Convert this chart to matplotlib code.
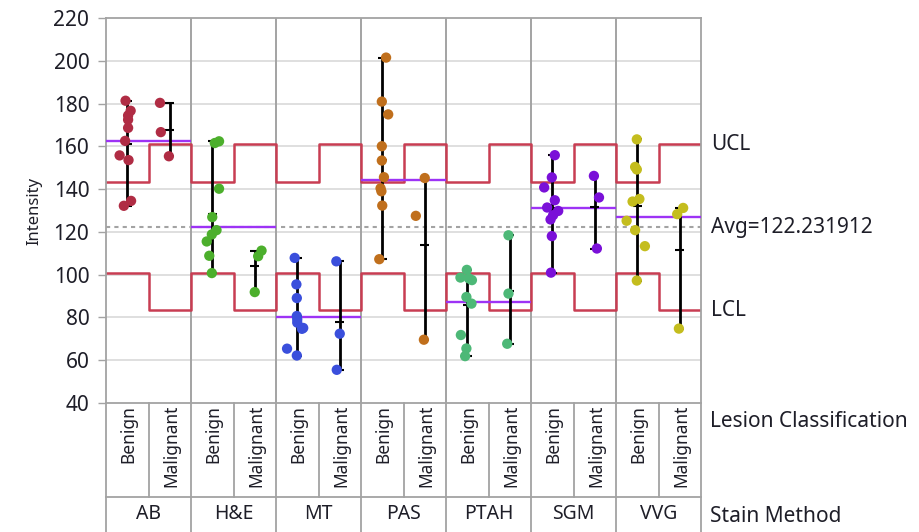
import numpy as np
import matplotlib
matplotlib.use('Agg')
import matplotlib.pyplot as plt

plt.rcParams['font.family'] = ['Noto Sans', 'DejaVu Sans']

# categories
stains = ['AB', 'H&E', 'MT', 'PAS', 'PTAH', 'SGM', 'VVG']
lesions = ['Benign', 'Malignant']

# intensity values (benign / malignant per stain)
ab_benign = [181.4, 176.7, 174.5, 172.5, 168.7, 162.6, 155.8, 153.6, 134.5, 132.2]
ab_malig = [180.4, 166.7, 155.4]
he_benign = [162.4, 161.6, 140.2, 126.9, 120.8, 118.8, 115.5, 108.8, 100.7]
he_malig = [111.2, 108.6, 91.8]
mt_benign = [107.8, 95.4, 89.0, 80.6, 79.0, 77.5, 75.0, 74.6, 65.3, 62.1]
mt_malig = [106.2, 72.3, 55.4]
pas_benign = [201.6, 181.0, 175.0, 160.1, 153.4, 145.6, 140.4, 139.0, 132.3, 107.2]
pas_malig = [145.2, 127.5, 69.5]
ptah_benign = [102.2, 98.6, 98.2, 97.4, 89.5, 86.4, 71.7, 65.4, 61.8]
ptah_malig = [118.4, 91.1, 67.6]
sgm_benign = [155.9, 145.5, 140.8, 134.8, 131.4, 129.8, 127.8, 125.8, 118.0, 100.9]
sgm_malig = [146.2, 136.1, 112.2]
vvg_benign = [163.3, 150.4, 149.2, 135.4, 134.2, 125.2, 120.8, 113.3, 97.2]
vvg_malig = [131.2, 128.3, 74.7]

# horizontal jitter of the points (fraction of a column)
ab_benign_jit = [-0.04, 0.08, 0.02, 0.02, 0.02, -0.05, -0.18, 0.03, 0.09, -0.08]
ab_malig_jit = [-0.23, -0.21, -0.02]
he_benign_jit = [0.16, 0.06, 0.16, 0.0, 0.10, -0.01, -0.13, -0.07, -0.01]
he_malig_jit = [0.16, 0.08, 0.0]
mt_benign_jit = [-0.06, -0.02, -0.01, -0.01, 0.0, 0.0, 0.14, 0.11, -0.24, -0.01]
mt_malig_jit = [-0.08, 0.0, -0.07]
pas_benign_jit = [0.09, -0.01, 0.14, -0.01, -0.01, 0.04, -0.04, -0.02, 0.0, -0.07]
pas_malig_jit = [0.0, -0.21, -0.02]
ptah_benign_jit = [-0.01, -0.16, 0.04, 0.11, -0.02, 0.10, -0.15, -0.02, -0.05]
ptah_malig_jit = [-0.03, -0.03, -0.06]
sgm_benign_jit = [0.06, -0.01, -0.19, 0.06, -0.12, 0.14, 0.02, -0.04, -0.01, -0.03]
sgm_malig_jit = [-0.02, 0.10, 0.05]
vvg_benign_jit = [-0.01, -0.05, -0.01, 0.05, -0.11, -0.25, -0.05, 0.18, -0.01]
vvg_malig_jit = [0.08, -0.06, -0.02]

# decision limits
avg = 122.231912
ucl = [143.5, 161.1]   # benign, malignant
lcl = [100.9, 83.3]

colors = ['#b02c44', '#4caf2c', '#3a4fdc', '#c06f1c', '#4db877', '#7a10d8', '#c4bd1e']

groups = [
    (ab_benign, ab_benign_jit, ab_malig, ab_malig_jit),
    (he_benign, he_benign_jit, he_malig, he_malig_jit),
    (mt_benign, mt_benign_jit, mt_malig, mt_malig_jit),
    (pas_benign, pas_benign_jit, pas_malig, pas_malig_jit),
    (ptah_benign, ptah_benign_jit, ptah_malig, ptah_malig_jit),
    (sgm_benign, sgm_benign_jit, sgm_malig, sgm_malig_jit),
    (vvg_benign, vvg_benign_jit, vvg_malig, vvg_malig_jit),
]

gray = '#a3a3a3'
txt = '#1e1e28'
ncol = 2 * len(stains)

fig = plt.figure(figsize=(9.19, 5.32), dpi=100)
ax = fig.add_axes([106 / 919, 129.3 / 532, 595 / 919, 384.4 / 532])
ax2 = fig.add_axes([106 / 919, 0, 595 / 919, 129.3 / 532])

ax.set_xlim(0, ncol)
ax.set_ylim(40, 220)
ax.set_yticks(np.arange(40, 221, 20))
ax.set_xticks([])
for y in np.arange(60, 220, 20):
    ax.axhline(y, color='#d6d6d6', lw=1.1, zorder=0)
for g in range(1, len(stains)):
    ax.axvline(2 * g, color=gray, lw=1.4, zorder=1)
for s in ax.spines.values():
    s.set_color(gray)
    s.set_linewidth(1.3)
ax.tick_params(axis='y', colors=gray, length=6, width=1, pad=6, labelsize=15, labelcolor=txt)
ax.set_ylabel('Intensity', fontsize=12, color=txt, labelpad=8)

# limit steps
xs = np.arange(ncol + 1)
ax.step(xs, [ucl[i % 2] for i in range(ncol)] + [ucl[1]], where='post', color='#c83d52', lw=1.8, zorder=2)
ax.step(xs, [lcl[i % 2] for i in range(ncol)] + [lcl[1]], where='post', color='#c83d52', lw=1.8, zorder=2)
ax.axhline(avg, color=gray, lw=1.5, ls=(0, (2, 2)), zorder=2)

for g, (b, bj, m, mj) in enumerate(groups):
    ax.hlines(np.mean(b + m), 2 * g, 2 * g + 2, color='#9d33f5', lw=1.7, zorder=3)
    for k, (vals, jit) in enumerate([(b, bj), (m, mj)]):
        xc = 2 * g + k + 0.5
        ax.vlines(xc, min(vals), max(vals), color='black', lw=2, zorder=4)
        ax.hlines([min(vals), max(vals), np.mean(vals)], xc - 0.11, xc + 0.11, color='black', lw=1.5, zorder=4)
        ax.scatter(xc + np.array(jit), vals, s=55, color=colors[g], edgecolor='none', zorder=5)

# right-side labels
for val, lab in [(ucl[1], 'UCL'), (avg, 'Avg=%.6f' % avg), (lcl[1], 'LCL')]:
    ax.annotate(lab, (1, val), xycoords=('axes fraction', 'data'), xytext=(7, 0),
                textcoords='offset points', va='center', ha='left', fontsize=15, color=txt,
                annotation_clip=False)

# category table below the plot
ax2.set_xlim(0, ncol)
ax2.set_ylim(0, 1)
ax2.axis('off')
div = 35.3 / 129.3
for i in range(ncol + 1):
    ax2.plot([i, i], [div, 1], color=gray, lw=1.3, clip_on=False)
for g in range(len(stains) + 1):
    ax2.plot([2 * g, 2 * g], [0, div], color=gray, lw=1.3, clip_on=False)
ax2.plot([0, ncol], [div, div], color=gray, lw=1.3, clip_on=False)
for g, st in enumerate(stains):
    for k, les in enumerate(lesions):
        ax2.text(2 * g + k + 0.53, 0.985, les, rotation=90, ha='center', va='top',
                 fontsize=12.5, color=txt)
    ax2.text(2 * g + 1, 0.14, st, ha='center', va='center', fontsize=14, color=txt)
ax2.text(ncol + 0.21, 0.855, 'Lesion Classification', ha='left', va='center', fontsize=15, color=txt, clip_on=False)
ax2.text(ncol + 0.21, 0.12, 'Stain Method', ha='left', va='center', fontsize=15, color=txt, clip_on=False)

fig.savefig('out.png', dpi=100)
